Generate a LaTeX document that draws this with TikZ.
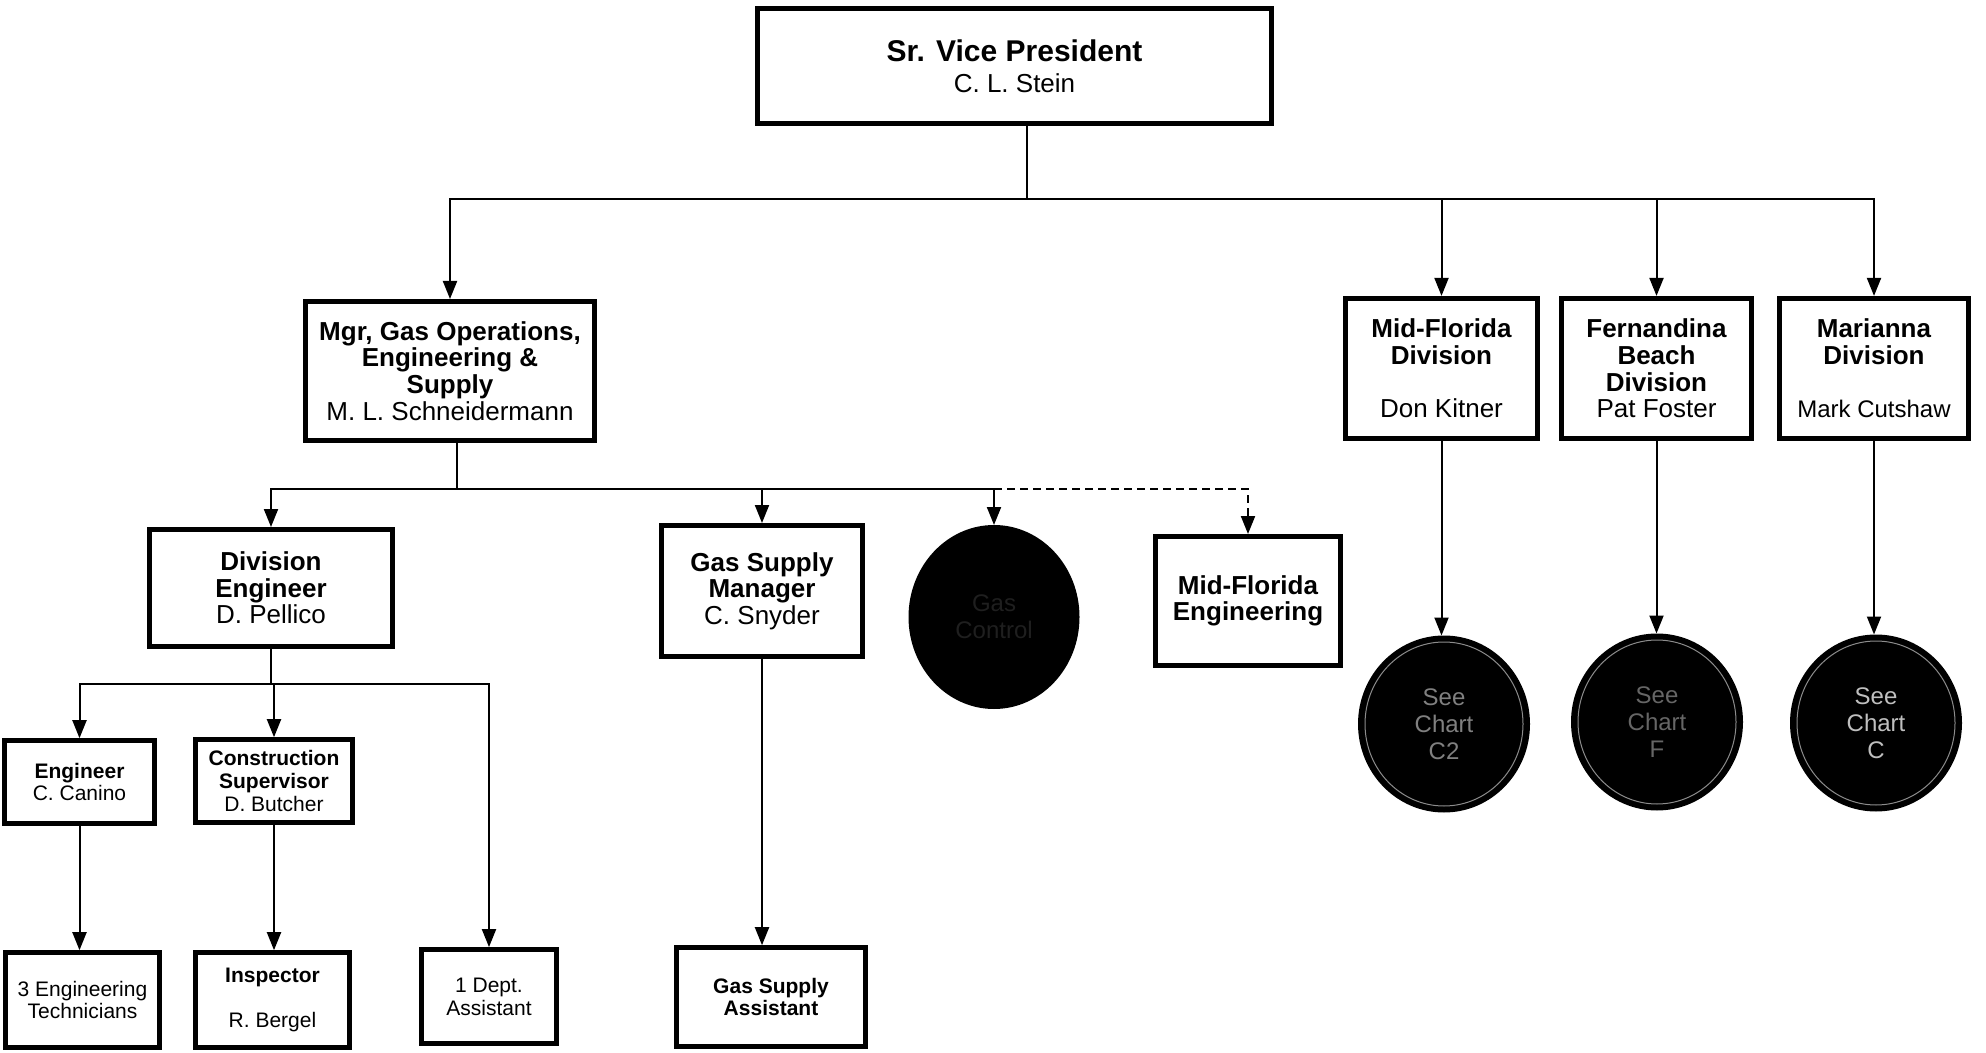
\documentclass[tikz,border=0pt]{standalone}
\usepackage{fontspec}
\setmainfont{Liberation Sans}
\usetikzlibrary{arrows.meta,shapes.geometric}

\newcommand{\fTop}{\fontsize{15}{15.5}\selectfont}
\newcommand{\fMid}{\fontsize{13}{13.3}\selectfont}
\newcommand{\fSmall}{\fontsize{10.5}{11.4}\selectfont}
\newcommand{\fCirc}{\fontsize{12}{13.6}\selectfont}

\begin{document}
\begin{tikzpicture}[x=0.5pt,y=-0.5pt,
  box/.style={draw=black, line width=2.6pt, fill=white, align=center, inner sep=0pt, font=\fMid},
  smallbox/.style={box, line width=2.4pt, font=\fSmall},
  conn/.style={line width=1pt},
  arr/.style={conn, -{Triangle[width=7pt,length=9pt]}},
  dasharr/.style={arr, dash pattern=on 4pt off 2.5pt},
  chart/.style={ellipse, draw=black, line width=2pt, fill=black, align=center, inner sep=0pt, font=\fCirc},
  ring/.style={draw=black!45, line width=0.5pt}
]
\useasboundingbox (0,0) rectangle (1986,1053);

% top level
\node[box, font=\fTop, minimum width=257pt, minimum height=57.4pt] (svp) at (1014.5,66)
  {\textbf{Sr. Vice President}\\{\fMid C. L. Stein}};

% second level
\node[box, minimum width=144.4pt, minimum height=69.4pt] (mgr) at (450,371)
  {\textbf{Mgr, Gas Operations,}\\\textbf{Engineering \&}\\\textbf{Supply}\\M. L. Schneidermann};
\node[box, minimum width=96pt, minimum height=70pt] (mfd) at (1441.5,368.5)
  {\textbf{Mid-Florida}\\\textbf{Division}\\[13.3pt]Don Kitner};
\node[box, minimum width=95pt, minimum height=70pt] (fbd) at (1656.5,368.5)
  {\textbf{Fernandina}\\\textbf{Beach}\\\textbf{Division}\\Pat Foster};
\node[box, minimum width=94.4pt, minimum height=70pt] (mard) at (1874,368.5)
  {\textbf{Marianna}\\\textbf{Division}\\[13.3pt]{\fontsize{12}{13.3}\selectfont Mark Cutshaw}};

% third level
\node[box, minimum width=121.4pt, minimum height=58.4pt] (dive) at (271,588)
  {\textbf{Division}\\\textbf{Engineer}\\D. Pellico};
\node[box, minimum width=100.4pt, minimum height=65.4pt] (gsm) at (762,591)
  {\textbf{Gas Supply}\\\textbf{Manager}\\C. Snyder};
\node[chart, text=black!88, minimum width=83.5pt, minimum height=90pt] (ctl) at (994,617)
  {Gas\\Control};
\node[box, minimum width=92.4pt, minimum height=64.4pt] (mfe) at (1248,601)
  {\textbf{Mid-Florida}\\\textbf{Engineering}};

% division charts
\node[chart, text=black!50, minimum width=84pt, minimum height=86.5pt] (cmf) at (1444,724)
  {See\\Chart\\C2};
\node[chart, text=black!60, minimum width=84pt, minimum height=86.5pt] (cfb) at (1657,722)
  {See\\Chart\\F};
\node[chart, text=black!25, minimum width=84pt, minimum height=86.5pt] (cma) at (1876,723)
  {See\\Chart\\C};
\foreach \c in {cmf,cfb,cma}
  \draw[ring] (\c.center) ellipse (79 and 82);

% fourth level
\node[smallbox, minimum width=75pt, minimum height=41.4pt] (eng) at (79.5,782)
  {\textbf{Engineer}\\C. Canino};
\node[smallbox, minimum width=78.4pt, minimum height=41.4pt] (cs) at (274,781)
  {\textbf{Construction}\\\textbf{Supervisor}\\D. Butcher};

% fifth level
\node[smallbox, minimum width=77pt, minimum height=47.4pt] (tech) at (82.5,1000)
  {3 Engineering\\Technicians};
\node[smallbox, minimum width=77pt, minimum height=47.4pt] (insp) at (272.5,1000)
  {\textbf{Inspector}\\[11.4pt]R. Bergel};
\node[smallbox, minimum width=67.4pt, minimum height=47pt] (dept) at (489,996.5)
  {1 Dept.\\Assistant};
\node[smallbox, font=\fontsize{10.5}{11.4}\selectfont\bfseries, minimum width=94.4pt, minimum height=49.4pt] (gsa) at (771,997)
  {Gas Supply\\Assistant};

% connectors from the top
\coordinate (b1) at (1027,199);
\draw[conn] (svp.south -| b1) -- (b1);
\draw[arr] (b1) -| (mgr.north);
\draw[arr] (b1) -| (mfd.north);
\draw[arr] (b1) -| (fbd.north);
\draw[arr] (b1) -| (mard.north);

% connectors from the manager
\coordinate (b2) at (457,489);
\draw[conn] (mgr.south -| b2) -- (b2);
\draw[arr] (b2) -| (dive.north);
\draw[arr] (b2) -| (gsm.north);
\draw[arr] (b2) -| (ctl.north);
\draw[dasharr] (ctl.north |- b2) -| (mfe.north);

% connectors from the division engineer
\coordinate (b3) at (271,684);
\draw[conn] (dive.south) -- (b3);
\draw[arr] (b3) -| (eng.north);
\draw[arr] (b3) -| (cs.north);
\draw[arr] (b3) -| (dept.north);

% single descents
\draw[arr] (eng.south) -- (eng.south |- tech.north);
\draw[arr] (cs.south) -- (cs.south |- insp.north);
\draw[arr] (gsm.south) -- (gsm.south |- gsa.north);
\draw[arr] (mfd.south) -- (mfd.south |- cmf.north);
\draw[arr] (fbd.south) -- (fbd.south |- cfb.north);
\draw[arr] (mard.south) -- (mard.south |- cma.north);
\end{tikzpicture}
\end{document}
